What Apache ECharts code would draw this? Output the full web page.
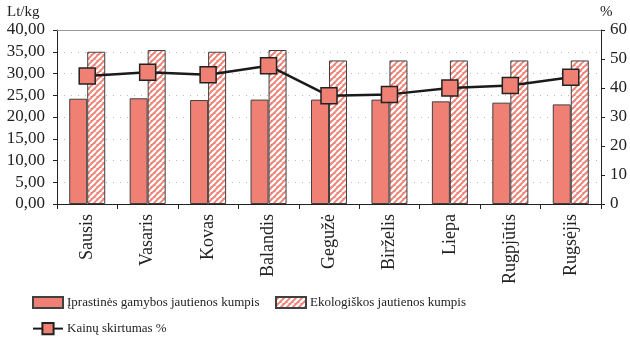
<!DOCTYPE html>
<html>
<head>
<meta charset="utf-8">
<script src="https://cdn.jsdelivr.net/npm/echarts@6/dist/echarts.min.js"></script>
<style>html,body{margin:0;padding:0;background:#fff}#c{width:630px;height:337px}</style>
</head>
<body>
<div id="c"></div>
<script>
const categories = ['Sausis','Vasaris','Kovas','Balandis','Gegužė','Birželis','Liepa','Rugpjūtis','Rugsėjis'];
const conventional = [24.2, 24.3, 23.9, 24.0, 24.0, 24.0, 23.6, 23.3, 22.9];
const organic = [35.0, 35.4, 35.0, 35.4, 33.0, 33.0, 33.0, 33.0, 33.0];
const priceDiff = [44.1, 45.4, 44.6, 47.7, 37.3, 37.8, 40.0, 40.9, 43.7];
const leftTicks = [0, 5, 10, 15, 20, 25, 30, 35, 40];
const rightTicks = [0, 10, 20, 30, 40, 50, 60];

const SALMON = '#F08074';
const EDGE = '#404040';
const FONT = '"Liberation Serif", "DejaVu Serif", serif';

function hatch() {
  const s = 6;
  const cv = document.createElement('canvas');
  cv.width = s; cv.height = s;
  const g = cv.getContext('2d');
  g.fillStyle = SALMON;
  g.fillRect(0, 0, s, s);
  g.strokeStyle = '#ffffff';
  g.lineWidth = 2.4;
  g.beginPath();
  for (let k = -1; k <= 1; k++) {
    g.moveTo(k * s, s);
    g.lineTo(k * s + s, 0);
  }
  g.stroke();
  return cv;
}
const pattern = { image: hatch(), repeat: 'repeat' };

const legText = { fontFamily: FONT, fontSize: 13, color: '#222', padding: [0, 0, 0, -1] };

const chart = echarts.init(document.getElementById('c'), null, { renderer: 'canvas' });
chart.setOption({
  animation: false,
  backgroundColor: '#fff',
  textStyle: { fontFamily: FONT },
  grid: { left: 57, right: 28, top: 30, bottom: 133, containLabel: false },
  graphic: [
    { type: 'text', left: 7, top: 5, style: { text: 'Lt/kg', font: '15px ' + FONT, fill: '#222' } },
    { type: 'text', left: 600, top: 5, style: { text: '%', font: '15px ' + FONT, fill: '#222' } }
  ],
  legend: [
    {
      data: [{ name: 'Įprastinės gamybos jautienos kumpis', icon: 'rect' }],
      left: 27, top: 291, itemWidth: 30, itemHeight: 11,
      textStyle: legText
    },
    {
      data: [{ name: 'Ekologiškos jautienos kumpis', icon: 'rect' }],
      left: 270, top: 291, itemWidth: 30, itemHeight: 11,
      textStyle: legText
    },
    {
      data: [{ name: 'Kainų skirtumas %' }],
      left: 27, top: 317, itemWidth: 30, itemHeight: 14,
      textStyle: legText
    }
  ],
  xAxis: {
    type: 'category',
    data: categories,
    axisLine: { lineStyle: { color: '#222', width: 1 } },
    axisTick: { show: true, length: 5, lineStyle: { color: '#222' } },
    axisLabel: { rotate: 90, fontFamily: FONT, fontSize: 18, color: '#222', margin: 10 }
  },
  yAxis: [
    {
      type: 'value', min: 0, max: 40, interval: 5,
      axisLine: { show: true, lineStyle: { color: '#222' } },
      axisTick: { show: true, length: 4, lineStyle: { color: '#222' } },
      axisLabel: { fontFamily: FONT, fontSize: 17, color: '#222', margin: 12,
        formatter: v => leftTicks.includes(v) ? v.toFixed(2).replace('.', ',') : '' },
      splitLine: { show: true, lineStyle: { color: '#bbb', type: [1, 6], width: 1 } }
    },
    {
      type: 'value', min: 0, max: 60, interval: 10,
      axisLine: { show: true, lineStyle: { color: '#222' } },
      axisTick: { show: true, length: 4, lineStyle: { color: '#222' } },
      axisLabel: { fontFamily: FONT, fontSize: 17, color: '#222', margin: 9,
        formatter: v => rightTicks.includes(v) ? String(v) : '' },
      splitLine: { show: false }
    }
  ],
  series: [
    {
      name: 'Įprastinės gamybos jautienos kumpis', type: 'bar', data: conventional,
      barWidth: 18, barGap: '0%',
      itemStyle: { color: SALMON, borderColor: EDGE, borderWidth: 1 },
      markLine: {
        silent: true, symbol: 'none', label: { show: false },
        lineStyle: { color: '#999', type: 'solid', width: 1 },
        data: [{ yAxis: 40 }]
      }
    },
    {
      name: 'Ekologiškos jautienos kumpis', type: 'bar', data: organic,
      barWidth: 18,
      itemStyle: { color: pattern, borderColor: EDGE, borderWidth: 1 }
    },
    {
      name: 'Kainų skirtumas %', type: 'line', yAxisIndex: 1, data: priceDiff,
      symbol: 'rect', symbolSize: 16,
      lineStyle: { color: '#1a1a1a', width: 2.5 },
      itemStyle: { color: SALMON, borderColor: '#222', borderWidth: 1.5 },
      z: 10
    }
  ]
});
</script>
</body>
</html>
